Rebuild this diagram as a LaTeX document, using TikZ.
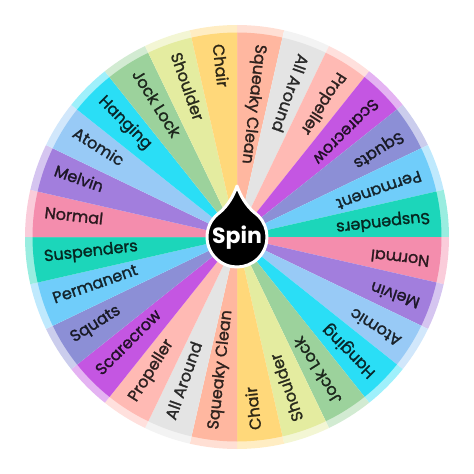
\documentclass[tikz,border=0pt]{standalone}
\usepackage{fontspec}
\setmainfont{Poppins}
\newfontfamily\lblfont[FakeBold=1.5]{Poppins}
\definecolor{cSqueaky}{RGB}{255,183,160}
\definecolor{cAll}{RGB}{228,228,228}
\definecolor{cProp}{RGB}{255,186,180}
\definecolor{cScare}{RGB}{196,86,226}
\definecolor{cSquats}{RGB}{140,143,214}
\definecolor{cPerm}{RGB}{112,205,250}
\definecolor{cSusp}{RGB}{28,214,186}
\definecolor{cNormal}{RGB}{244,141,173}
\definecolor{cMelvin}{RGB}{162,126,221}
\definecolor{cAtomic}{RGB}{152,202,246}
\definecolor{cHang}{RGB}{42,222,246}
\definecolor{cJock}{RGB}{156,210,156}
\definecolor{cShould}{RGB}{228,236,160}
\definecolor{cChair}{RGB}{255,216,122}
\tikzset{
  lbl/.style={font=\lblfont\fontsize{16}{16}\selectfont, inner sep=0pt, anchor=mid west},
  spintxt/.style={font=\fontsize{22}{22}\selectfont\bfseries, text=white, inner sep=0pt}
}
\begin{document}
\begin{tikzpicture}
\useasboundingbox (-237pt,-237pt) rectangle (237pt,237pt);
\pgfmathsetmacro{\d}{360/28}
\foreach \h in {0,180}{
  \foreach \name/\col [count=\k from 0] in {Squeaky Clean/cSqueaky, All Around/cAll, Propeller/cProp, Scarecrow/cScare, Squats/cSquats, Permanent/cPerm, Suspenders/cSusp, Normal/cNormal, Melvin/cMelvin, Atomic/cAtomic, Hanging/cHang, Jock Lock/cJock, Shoulder/cShould, Chair/cChair}{
    \pgfmathsetmacro{\s}{90-(\k+1)*\d-\h}
    \pgfmathsetmacro{\e}{90-\k*\d-\h}
    \pgfmathsetmacro{\c}{90-(\k+0.5)*\d-\h}
    \fill[\col!45!white] (0,0) -- (\s:212pt) arc[start angle=\s, end angle=\e, radius=212pt] -- cycle;
    \fill[\col] (0,0) -- (\s:204.5pt) arc[start angle=\s, end angle=\e, radius=204.5pt] -- cycle;
    \node[lbl, text=\col!18!black, rotate=\c+180] (t\h\k) at (\c:194pt) {\name};
  }
}
\path[fill=black, draw=white, line width=3pt, line join=round]
  (0pt,51pt) .. controls (4pt,40pt) and (9pt,32pt) .. (56:30pt)
  arc[start angle=56, end angle=-236, radius=30pt]
  .. controls (-9pt,32pt) and (-4pt,40pt) .. (0pt,51pt) -- cycle;
\node[spintxt] (spin) at (0pt,-1pt) {Spin};
\end{tikzpicture}
\end{document}
